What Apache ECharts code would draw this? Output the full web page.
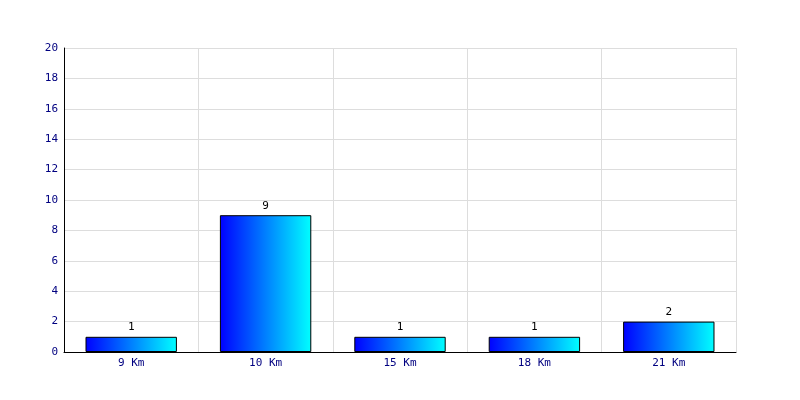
<!DOCTYPE html>
<html><head><meta charset="utf-8">
<script src="https://cdn.jsdelivr.net/npm/echarts@6/dist/echarts.min.js"></script>
<style>html,body{margin:0;padding:0;background:#fff}#c{width:800px;height:400px}</style>
</head><body><div id="c"></div>
<script>
var categories = ['9 Km', '10 Km', '15 Km', '18 Km', '21 Km'];
var values = [1, 9, 1, 1, 2];
var yTicks = [0, 2, 4, 6, 8, 10, 12, 14, 16, 18, 20];

var chart = echarts.init(document.getElementById('c'));
var font = 'DejaVu Sans Mono';
chart.setOption({
  animation: false,
  backgroundColor: '#ffffff',
  grid: { left: 64, right: 64, top: 48, bottom: 48 },
  xAxis: {
    type: 'category', data: categories, boundaryGap: true,
    axisLine: { lineStyle: { color: '#000', width: 1 } },
    axisTick: { show: false },
    axisLabel: { color: '#000080', fontFamily: font, fontSize: 11, margin: 6 },
    splitLine: { show: true, lineStyle: { color: '#dddddd', width: 1 } }
  },
  yAxis: {
    type: 'value', min: yTicks[0], max: yTicks[yTicks.length - 1], interval: 2,
    axisLine: { show: true, lineStyle: { color: '#000', width: 1 } },
    axisTick: { show: false },
    axisLabel: { color: '#000080', fontFamily: font, fontSize: 11, margin: 6 },
    splitLine: { show: true, lineStyle: { color: '#dddddd', width: 1 } }
  },
  series: [{
    type: 'bar', data: values, barWidth: '68%',
    itemStyle: {
      color: new echarts.graphic.LinearGradient(0, 0, 1, 0, [
        { offset: 0, color: '#0000ff' }, { offset: 1, color: '#00ffff' }
      ]),
      borderColor: '#000', borderWidth: 1
    },
    label: { show: true, position: 'top', color: '#000', fontFamily: font, fontSize: 11, distance: 4 }
  }]
});
</script></body></html>
